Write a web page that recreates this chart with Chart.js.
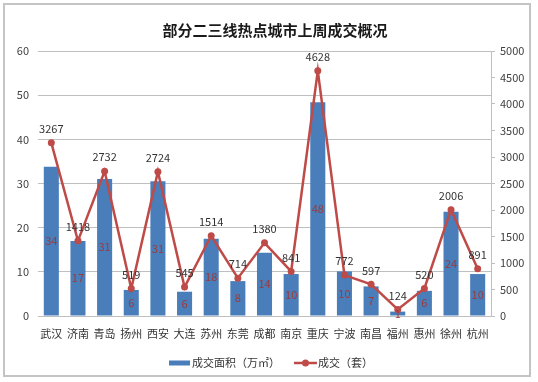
<!DOCTYPE html>
<html>
<head>
<meta charset="utf-8">
<script src="https://cdn.jsdelivr.net/npm/chart.js@4"></script>
<style>
html,body{margin:0;padding:0;background:#fff;}
canvas{display:block;}
</style>
</head>
<body>
<canvas id="c" width="538" height="382"></canvas>
<script>
const titleText = '部分二三线热点城市上周成交概况';
const categories = ['武汉','济南','青岛','扬州','西安','大连','苏州','东莞','成都','南京','重庆','宁波','南昌','福州','惠州','徐州','杭州'];
const areaValues = [33.8, 17.0, 31.0, 5.9, 30.5, 5.5, 17.5, 7.9, 14.3, 9.5, 48.4, 10.1, 6.7, 1.0, 5.7, 23.6, 9.5];
const unitValues = [3267, 1418, 2732, 519, 2724, 545, 1514, 714, 1380, 841, 4628, 772, 597, 124, 520, 2006, 891];
const areaLabel = '成交面积（万㎡）';
const unitLabel = '成交（套）';

const FONT = "'Noto Sans CJK SC', 'Noto Sans', sans-serif";
const BAR_COLOR = '#4A7EBB';
const LINE_COLOR = '#BE4B48';
const BAR_LABEL_COLOR = '#9B3A3A';
const GRID = '#BFBFBF';

const decor = {
  id: 'decor',
  beforeDraw(chart) {
    const ctx = chart.ctx;
    ctx.save();
    ctx.fillStyle = '#fff';
    ctx.fillRect(0, 0, chart.width, chart.height);
    ctx.strokeStyle = '#C4C4C4';
    ctx.lineWidth = 2;
    ctx.strokeRect(4, 4, 526, 372);
    ctx.fillStyle = '#1a1a1a';
    ctx.font = 'bold 15px ' + FONT;
    ctx.textAlign = 'center';
    ctx.textBaseline = 'middle';
    ctx.fillText(titleText, 275, 30);
    ctx.restore();
  },
  afterDatasetsDraw(chart) {
    const ctx = chart.ctx;
    ctx.save();
    ctx.font = '11px ' + FONT;
    ctx.textAlign = 'center';
    ctx.textBaseline = 'middle';
    const bars = chart.getDatasetMeta(0).data;
    ctx.fillStyle = BAR_LABEL_COLOR;
    bars.forEach((b, i) => {
      ctx.fillText(String(Math.round(areaValues[i])), b.x, (b.y + b.base) / 2);
    });
    const pts = chart.getDatasetMeta(1).data;
    ctx.fillStyle = '#333';
    pts.forEach((p, i) => {
      ctx.fillText(String(unitValues[i]), p.x, p.y - 14);
    });
    // legend
    const ly = 363;
    ctx.fillStyle = BAR_COLOR;
    ctx.fillRect(169, ly - 2.5, 21, 5);
    ctx.fillStyle = '#333';
    ctx.textAlign = 'left';
    ctx.fillText(areaLabel, 192, ly);
    ctx.strokeStyle = LINE_COLOR;
    ctx.lineWidth = 2.5;
    ctx.beginPath();
    ctx.moveTo(294, ly);
    ctx.lineTo(317, ly);
    ctx.stroke();
    ctx.fillStyle = LINE_COLOR;
    ctx.beginPath();
    ctx.arc(305.5, ly, 3.5, 0, Math.PI * 2);
    ctx.fill();
    ctx.fillStyle = '#333';
    ctx.fillText(unitLabel, 318, ly);
    ctx.restore();
  }
};

new Chart(document.getElementById('c'), {
  data: {
    labels: categories,
    datasets: [
      {
        type: 'bar',
        label: areaLabel,
        data: areaValues,
        yAxisID: 'y',
        backgroundColor: BAR_COLOR,
        categoryPercentage: 1,
        barPercentage: 0.565,
        order: 2
      },
      {
        type: 'line',
        label: unitLabel,
        data: unitValues,
        yAxisID: 'y1',
        borderColor: LINE_COLOR,
        backgroundColor: LINE_COLOR,
        borderWidth: 2.5,
        pointRadius: 3.5,
        pointBackgroundColor: LINE_COLOR,
        pointBorderWidth: 0,
        tension: 0,
        order: 1
      }
    ]
  },
  options: {
    responsive: false,
    animation: false,
    devicePixelRatio: 1,
    layout: { padding: { top: 51, bottom: 36, left: 0, right: 0 } },
    plugins: {
      legend: { display: false },
      title: { display: false },
      tooltip: { enabled: false }
    },
    scales: {
      x: {
        grid: { display: false, drawTicks: false },
        border: { display: true, color: GRID },
        ticks: { color: '#333', font: { family: FONT, size: 11 }, padding: 11, maxRotation: 0, autoSkip: false },
        afterFit(s) { s.height = 30; }
      },
      y: {
        position: 'left',
        min: 0, max: 60,
        ticks: { stepSize: 10, color: '#404040', font: { family: FONT, size: 11 }, padding: 9, callback: v => String(v) },
        grid: { color: GRID, drawTicks: false },
        border: { display: false },
        afterFit(s) { s.width = 38; }
      },
      y1: {
        position: 'right',
        min: 0, max: 5000,
        ticks: { stepSize: 500, color: '#404040', font: { family: FONT, size: 11 }, padding: 5, callback: v => String(v) },
        grid: { drawOnChartArea: false, drawTicks: true, tickLength: 4, color: GRID },
        border: { display: true, color: GRID },
        afterFit(s) { s.width = 47; }
      }
    }
  },
  plugins: [decor]
});
</script>
</body>
</html>
